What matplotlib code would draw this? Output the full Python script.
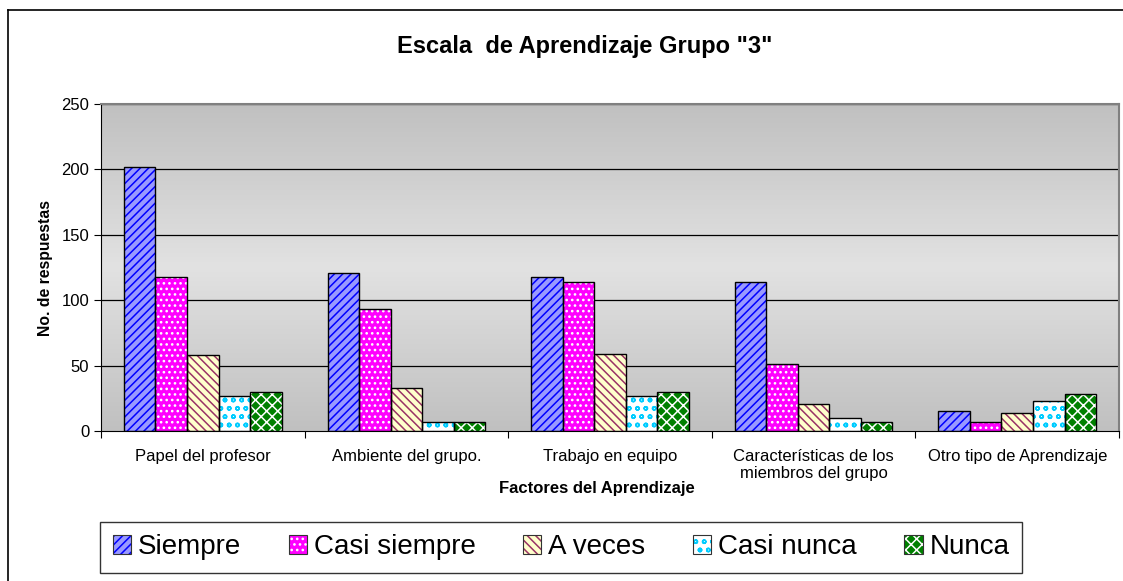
import numpy as np
import matplotlib
matplotlib.use("Agg")
import matplotlib.pyplot as plt
from matplotlib.patches import Patch
from matplotlib.lines import Line2D
from matplotlib.legend_handler import HandlerTuple

plt.rcParams["font.family"] = ["Liberation Sans", "DejaVu Sans"]
plt.rcParams["hatch.linewidth"] = 1.1

# Datos
categorias = ["Papel del profesor", "Ambiente del grupo.", "Trabajo en equipo",
              "Características de los\nmiembros del grupo", "Otro tipo de Aprendizaje"]
series = ["Siempre", "Casi siempre", "A veces", "Casi nunca", "Nunca"]
siempre = [202, 121, 118, 114, 15]
casi_siempre = [118, 93, 114, 51, 7]
a_veces = [58, 33, 59, 21, 14]
casi_nunca = [27, 7, 27, 10, 23]
nunca = [30, 7, 30, 7, 28]
valores = [siempre, casi_siempre, a_veces, casi_nunca, nunca]

# estilo: (relleno, color del patrón, patrón)
estilos = [
    ("#9999ff", "#0000ff", "////"),
    ("#ff00ff", "#ffffff", "..."),
    ("#ffffcc", "#993366", "\\\\\\\\"),
    ("#ffffff", "#00ccff", "oo"),
    ("#008000", "#ffffff", "xxx"),
]

W, H = 1123, 581
fig = plt.figure(figsize=(W / 100, H / 100), dpi=100)

# marco exterior (solo lados visibles: izquierdo y superior)
fig.add_artist(Line2D([8 / W, 8 / W], [0, 1 - 10 / H], transform=fig.transFigure,
                      color="black", linewidth=1.2))
fig.add_artist(Line2D([8 / W, 1], [1 - 10 / H, 1 - 10 / H], transform=fig.transFigure,
                      color="black", linewidth=1.2))

ax = fig.add_axes([101 / W, (H - 431) / H, (1119 - 101) / W, (431 - 104) / H])

# fondo degradado gris
t = np.linspace(0, 1, 256)
g = (192 + 34 * (1 - np.abs(2 * t - 1))) / 255
grad = np.dstack([g, g, g]).reshape(256, 1, 3)
ax.imshow(grad, extent=[-0.5, 4.5, 0, 250], aspect="auto", zorder=0,
          interpolation="bilinear")

ax.set_xlim(-0.5, 4.5)
ax.set_ylim(0, 250)
ax.set_yticks(np.arange(0, 251, 50))
for y in range(50, 251, 50):
    ax.axhline(y, color="black", linewidth=0.9, zorder=1)

x = np.arange(len(categorias))
ancho = 0.155
for i, (nombre, vals) in enumerate(zip(series, valores)):
    fc, hc, hatch = estilos[i]
    pos = x + (i - 2) * ancho
    ax.bar(pos, vals, ancho, facecolor=fc, edgecolor=hc, hatch=hatch,
           linewidth=0, zorder=2)
    ax.bar(pos, vals, ancho, fill=False, edgecolor="black", linewidth=1.0, zorder=3)

# ejes y marcas
ax.set_xticks(np.arange(-0.5, 4.6, 1.0))
ax.set_xticklabels([])
ax.set_xticks(x, minor=True)
ax.set_xticklabels(categorias, minor=True, fontsize=12, va="top")
ax.tick_params(axis="x", which="minor", length=0, pad=13)
ax.tick_params(axis="x", which="major", length=5, direction="out")
ax.tick_params(axis="y", length=5, direction="out", labelsize=12)
for lbl in ax.get_xticklabels(minor=True):
    lbl.set_multialignment("center")

for s in ["top", "right"]:
    ax.spines[s].set_color("#808080")
    ax.spines[s].set_linewidth(1.5)
ax.spines["left"].set_color("black")
ax.spines["bottom"].set_color("black")

ax.set_ylabel("No. de respuestas", fontsize=11.3, fontweight="bold", labelpad=6)
fig.text(597 / W, 1 - 488 / H, "Factores del Aprendizaje", fontsize=12,
         fontweight="bold", ha="center", va="center")
fig.text(585 / W, 1 - 47 / H, 'Escala  de Aprendizaje Grupo "3"', fontsize=17,
         fontweight="bold", ha="center", va="center")

# leyenda
handles = [(Patch(facecolor=fc, edgecolor=hc, hatch=h, linewidth=0),
            Patch(fill=False, edgecolor="#333333", linewidth=0.8))
           for fc, hc, h in estilos]
leg = fig.legend(handles, series, loc="center", bbox_to_anchor=(561 / W, 1 - 547.5 / H),
                 ncol=5, fontsize=20, frameon=True, fancybox=False,
                 handler_map={tuple: HandlerTuple(ndivide=1, pad=0)},
                 handlelength=0.65, handleheight=0.65, handletextpad=0.25,
                 columnspacing=1.72, borderpad=0.45, borderaxespad=0)
leg.get_frame().set_edgecolor("black")
leg.get_frame().set_linewidth(1.0)

fig.savefig("out.png", dpi=100)
